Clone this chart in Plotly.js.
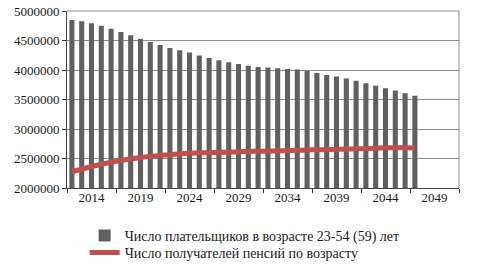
<!DOCTYPE html>
<html>
<head>
<meta charset="utf-8">
<script src="https://cdn.plot.ly/plotly-3.0.1.min.js"></script>
<style>html,body{margin:0;padding:0;background:#fff;}#chart{width:492px;height:266px;}</style>
</head>
<body>
<div id="chart"></div>
<script>
const years = [2014,2015,2016,2017,2018,2019,2020,2021,2022,2023,2024,2025,2026,2027,2028,2029,2030,2031,2032,2033,2034,2035,2036,2037,2038,2039,2040,2041,2042,2043,2044,2045,2046,2047,2048,2049];
const payers = [4848000,4826000,4792000,4751000,4701000,4645000,4589000,4526000,4476000,4425000,4374000,4335000,4295000,4244000,4205000,4166000,4132000,4103000,4074000,4052000,4041000,4030000,4019000,4007000,3985000,3951000,3917000,3889000,3855000,3816000,3777000,3731000,3692000,3652000,3607000,3562000];
const pensioners = [2276000,2318000,2364000,2403000,2437000,2465000,2496000,2516000,2536000,2552000,2563000,2580000,2590000,2597000,2599000,2602000,2607000,2614000,2619000,2623000,2626000,2631000,2634000,2638000,2645000,2648000,2651000,2655000,2660000,2665000,2668000,2675000,2682000,2684000,2682000,2677000];
const tickLabels = ['2014','2019','2024','2029','2034','2039','2044','2049'];
const payersName = 'Число плательщиков в возрасте 23-54 (59) лет';
const pensionersName = 'Число получателей пенсий по возрасту';

const font = {family: 'Liberation Serif, Times New Roman, Tinos, DejaVu Serif, serif', size: 13, color: '#1a1a1a'};
const legendFont = Object.assign({}, font, {size: 14});
const xRange = [2013.5, 2053.5];
const boundaryTicks = tickLabels.map(t => Number(t) - 0.5).concat([Number(tickLabels[tickLabels.length-1]) + 4.5]);
const labelPos = tickLabels.map(t => Number(t) + 2);

const traces = [
  {type: 'bar', x: years, y: payers, name: payersName, marker: {color: '#606060'}, xaxis: 'x', yaxis: 'y', legend: 'legend'},
  {type: 'scatter', mode: 'lines', x: years, y: pensioners, name: pensionersName,
   line: {color: '#c0504d', width: 5, shape: 'spline'}, xaxis: 'x2', yaxis: 'y', legend: 'legend2'}
];

const legendBase = {x: 0.045, xref: 'paper', xanchor: 'left', yref: 'paper', yanchor: 'top', font: legendFont, bgcolor: 'rgba(0,0,0,0)', itemwidth: 30};

const layout = {
  width: 492, height: 266,
  margin: {l: 67, r: 33, t: 11, b: 78, autoexpand: false},
  paper_bgcolor: '#fff', plot_bgcolor: '#fff',
  font: font,
  bargap: 0.48,
  showlegend: true,
  legend: Object.assign({}, legendBase, {y: -0.18}),
  legend2: Object.assign({}, legendBase, {y: -0.276}),
  xaxis: {range: xRange, tickmode: 'array', tickvals: boundaryTicks, ticktext: boundaryTicks.map(() => ''),
          ticks: 'outside', ticklen: 4, tickcolor: '#333', showgrid: false, zeroline: false,
          showline: true, linecolor: '#444', linewidth: 1, mirror: false, fixedrange: true},
  xaxis2: {range: xRange, overlaying: 'x', anchor: 'y', side: 'bottom', tickmode: 'array', tickvals: labelPos, ticktext: tickLabels,
           ticks: '', showgrid: false, zeroline: false, showline: false, tickfont: font, tickangle: 0, fixedrange: true},
  yaxis: {range: [2000000, 5000000], dtick: 500000, tick0: 2000000, tickformat: 'd', ticks: 'outside', ticklen: 4, tickcolor: '#333',
          showgrid: true, gridcolor: '#8c8c8c', gridwidth: 1, zeroline: false,
          showline: true, linecolor: '#444', linewidth: 1, tickfont: font, fixedrange: true},
  shapes: [
    {type: 'line', xref: 'paper', yref: 'paper', x0: 0, x1: 1, y0: 1, y1: 1, line: {color: '#8c8c8c', width: 1}},
    {type: 'line', xref: 'paper', yref: 'paper', x0: 1, x1: 1, y0: 0, y1: 1, line: {color: '#8c8c8c', width: 1}}
  ]
};

Plotly.newPlot('chart', traces, layout, {displayModeBar: false, staticPlot: true});
</script>
</body>
</html>
